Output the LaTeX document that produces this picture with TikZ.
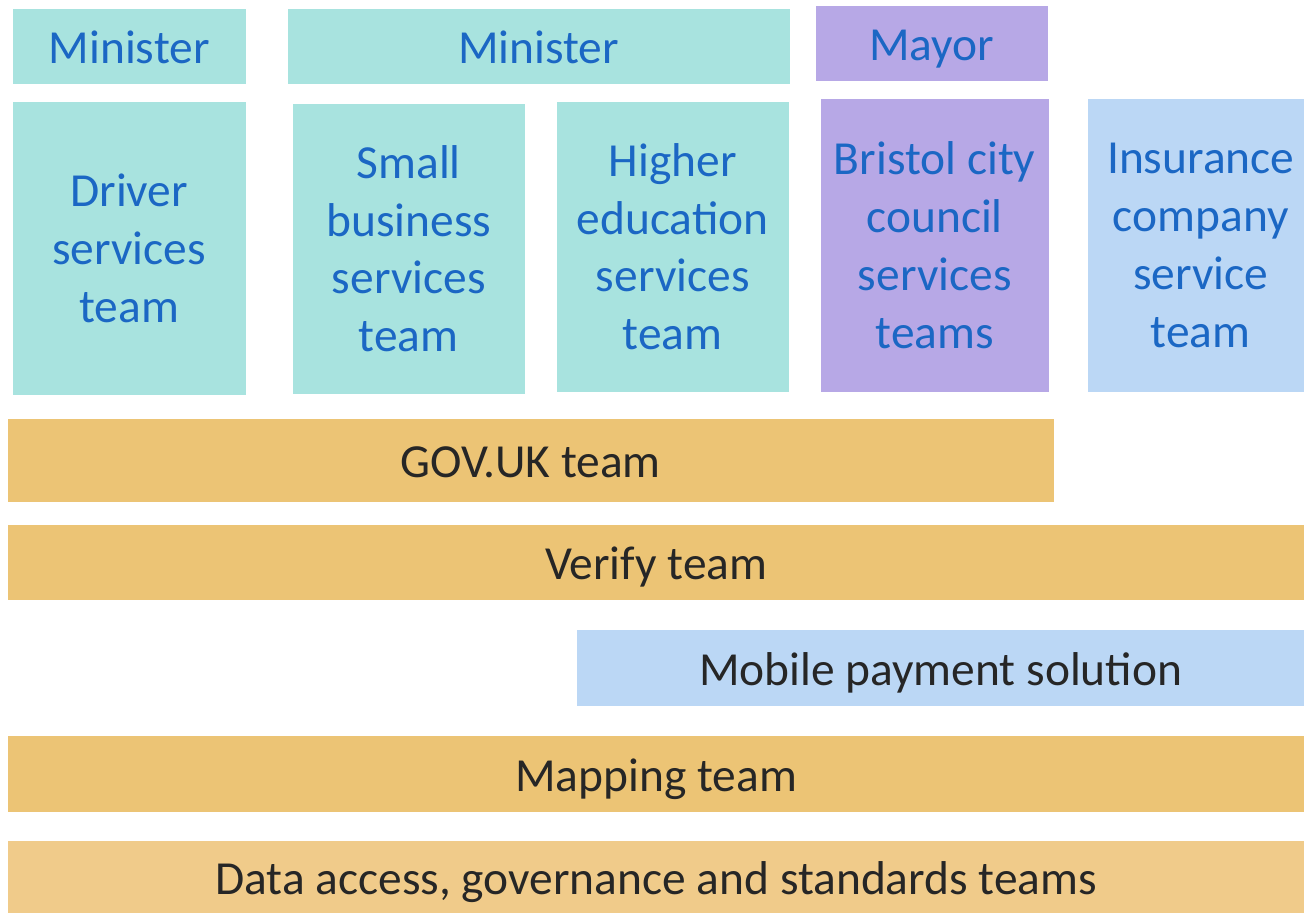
\documentclass[tikz,border=0pt]{standalone}
\usepackage{fontspec}
\setmainfont{Carlito}
\usetikzlibrary{positioning}
\definecolor{svcteal}{HTML}{A8E3DF}
\definecolor{cityviolet}{HTML}{B7A8E6}
\definecolor{privblue}{HTML}{BBD7F5}
\definecolor{platorange}{HTML}{ECC475}
\definecolor{dataorange}{HTML}{F0CB8A}
\definecolor{labelblue}{HTML}{1B67C4}
\definecolor{labeldark}{HTML}{262626}
\tikzset{every picture/.style={line width=0.8pt}}
\tikzset{
    teambox/.style={rectangle, inner sep=0pt, anchor=north west, align=center, font=\fontsize{27}{33}\selectfont},
    oneline/.style={text height=0.9cm, text depth=0.2cm},
    svcbox/.style={teambox, text=labelblue},
    platbox/.style={teambox, oneline, text=labeldark}
}

\begin{document}
\begin{tikzpicture}
    \useasboundingbox (0,0) rectangle (26.08,-18.28);
    % Owners
    \node[svcbox, oneline, fill=svcteal, minimum width=4.66cm, minimum height=1.5cm] (minister1) at (0.24,-0.16) {Minister};
    \node[svcbox, oneline, fill=svcteal, minimum width=10.04cm, minimum height=1.5cm] (minister2) at (5.74,-0.16) {Minister};
    \node[svcbox, oneline, fill=cityviolet, minimum width=4.64cm, minimum height=1.5cm] (mayor) at (16.30,-0.10) {Mayor};

    % Service teams
    \node[svcbox, fill=svcteal, minimum width=4.66cm, minimum height=5.86cm] (driver) at (0.24,-2.02) {Driver\\services\\team};
    \node[svcbox, fill=svcteal, minimum width=4.64cm, minimum height=5.80cm] (smallbiz) at (5.84,-2.06) {Small\\business\\services\\team};
    \node[svcbox, fill=svcteal, minimum width=4.64cm, minimum height=5.80cm] (highered) at (11.12,-2.02) {Higher\\education\\services\\team};
    \node[svcbox, fill=cityviolet, minimum width=4.56cm, minimum height=5.86cm] (bristol) at (16.40,-1.96) {Bristol city\\council\\services\\teams};
    \node[svcbox, fill=privblue, minimum width=4.52cm, minimum height=5.86cm] (insurance) at (21.74,-1.96) {Insurance\\company\\service\\team};

    % Platforms
    \node[platbox, fill=platorange, minimum width=20.92cm, minimum height=1.66cm] (govuk) at (0.14,-8.36) {GOV.UK team};
    \node[platbox, fill=platorange, minimum width=25.94cm, minimum height=1.5cm] (verify) at (0.14,-10.48) {Verify team};
    \node[platbox, fill=privblue, minimum width=14.56cm, minimum height=1.52cm] (mobile) at (11.52,-12.58) {Mobile payment solution};
    \node[platbox, fill=platorange, minimum width=25.94cm, minimum height=1.52cm] (mapping) at (0.14,-14.70) {Mapping team};
    \node[platbox, fill=dataorange, minimum width=25.94cm, minimum height=1.44cm] (dataaccess) at (0.14,-16.80) {Data access, governance and standards teams};
\end{tikzpicture}
\end{document}
